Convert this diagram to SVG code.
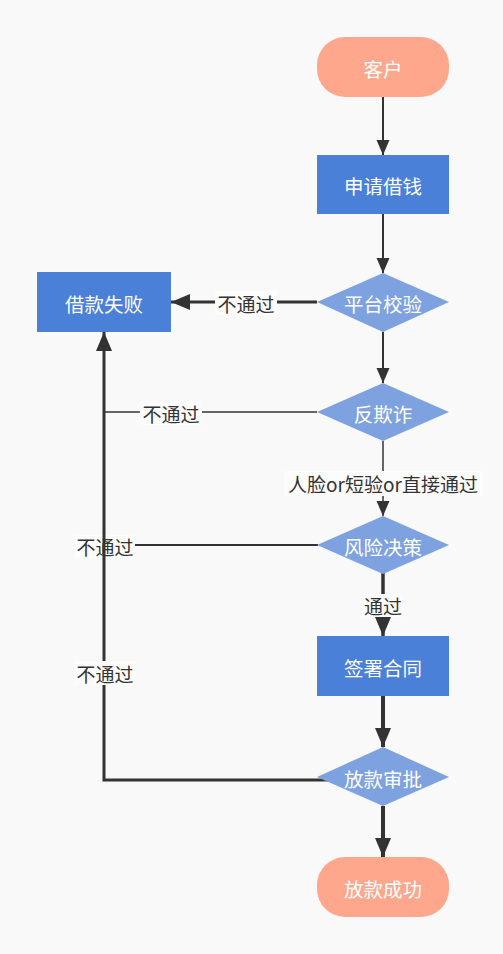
<svg xmlns="http://www.w3.org/2000/svg" width="503" height="954" viewBox="0 0 503 954">
<style>
.n{font-family:"Noto Sans CJK SC","Noto Sans",sans-serif;font-size:19.5px;fill:#ffffff;text-anchor:middle;dominant-baseline:central}
.l{font-family:"Noto Sans CJK SC","Noto Sans",sans-serif;font-size:19px;fill:#333333;text-anchor:middle;dominant-baseline:central}
.e{fill:none;stroke:#333333}
.lb{fill:#fcfcfc}
.rr{fill:#ffa78c}
.bx{fill:#4a80d8}
.dm{fill:#7ea2e0}
</style>
<defs>
<marker id="a1" markerUnits="userSpaceOnUse" markerWidth="16" markerHeight="14" refX="15" refY="7" orient="auto"><path d="M0,0.5 L15,7 L0,13.5 Z" fill="#333333"/></marker>
<marker id="a2" markerUnits="userSpaceOnUse" markerWidth="20" markerHeight="17" refX="19" refY="8.5" orient="auto"><path d="M0,0.5 L19,8.5 L0,16.5 Z" fill="#333333"/></marker>
</defs>
<rect x="0" y="0" width="503" height="954" fill="#f9f9f9"/>
<g id="connectors">
<path class="e" stroke-width="2" d="M383,97 L383,155" marker-end="url(#a1)"/>
<path class="e" stroke-width="2" d="M383,214 L383,273" marker-end="url(#a1)"/>
<path class="e" stroke-width="3" d="M317,302 L171,302" marker-end="url(#a2)"/>
<rect class="lb" x="215" y="291" width="62" height="24"/>
<text class="l" x="246" y="303">不通过</text>
<path class="e" stroke-width="2" d="M383,332 L383,383" marker-end="url(#a1)"/>
<path class="e" stroke-width="1.5" d="M317,412 L104,412"/>
<rect class="lb" x="140" y="401" width="62" height="24"/>
<text class="l" x="171" y="413">不通过</text>
<path class="e" stroke-width="1.5" d="M383,441 L383,516" marker-end="url(#a1)"/>
<rect class="lb" x="284" y="471" width="199" height="25"/>
<text class="l" x="383" y="483">人脸or短验or直接通过</text>
<path class="e" stroke-width="2" d="M318,545 L104,545"/>
<rect class="lb" x="75" y="535" width="60" height="23"/>
<text class="l" x="105" y="546">不通过</text>
<path class="e" stroke-width="3.5" d="M383,573 L383,636" marker-end="url(#a2)"/>
<rect class="lb" x="363" y="594" width="40" height="23"/>
<text class="l" x="383" y="605">通过</text>
<path class="e" stroke-width="4" d="M383,696 L383,747" marker-end="url(#a2)"/>
<path class="e" stroke-width="3" d="M330,780 L104,780 L104,332" marker-end="url(#a2)"/>
<rect class="lb" x="74" y="661" width="62" height="24"/>
<text class="l" x="105" y="673">不通过</text>
<path class="e" stroke-width="4" d="M383,806 L383,857" marker-end="url(#a2)"/>
</g>
<g id="n1"><rect class="rr" x="317" y="37" width="132" height="60" rx="28" ry="28"/><text class="n" x="383" y="68">客户</text></g>
<g id="n2"><rect class="bx" x="317" y="155" width="132" height="59"/><text class="n" x="383" y="185">申请借钱</text></g>
<g id="n3"><polygon class="dm" points="383,273 449,302 383,332 317,302"/><text class="n" x="383" y="303">平台校验</text></g>
<g id="n4"><rect class="bx" x="37" y="272" width="134" height="60"/><text class="n" x="104" y="303">借款失败</text></g>
<g id="n5"><polygon class="dm" points="383,383 449,412 383,441 317,412"/><text class="n" x="383" y="413">反欺诈</text></g>
<g id="n6"><polygon class="dm" points="383,516 449,545 383,574 317,545"/><text class="n" x="383" y="546">风险决策</text></g>
<g id="n7"><rect class="bx" x="317" y="636" width="132" height="60"/><text class="n" x="383" y="667">签署合同</text></g>
<g id="n8"><polygon class="dm" points="383,747 449,777 383,806 317,777"/><text class="n" x="383" y="778">放款审批</text></g>
<g id="n9"><rect class="rr" x="317" y="857" width="132" height="60" rx="28" ry="28"/><text class="n" x="383" y="888">放款成功</text></g>
</svg>
